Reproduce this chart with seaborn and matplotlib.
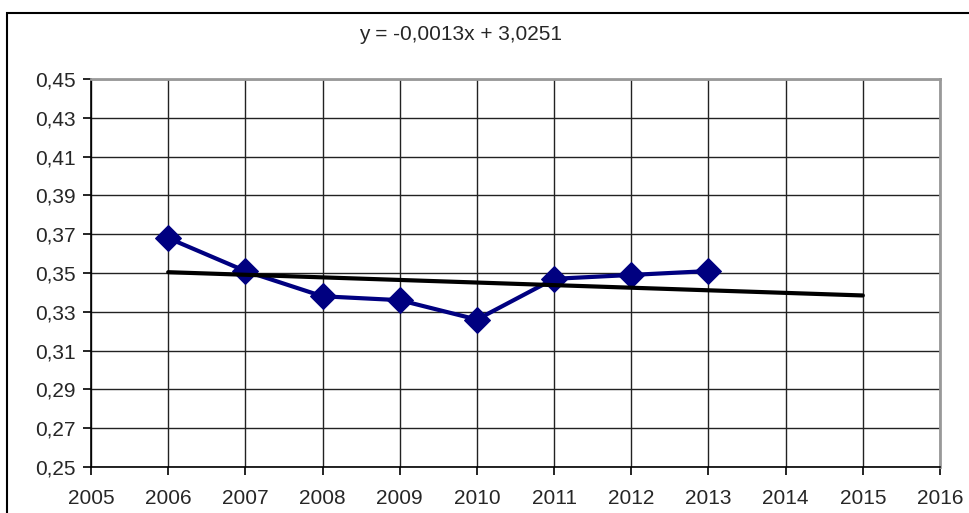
import numpy as np
import pandas as pd
import matplotlib
matplotlib.use("Agg")
import matplotlib.pyplot as plt
import seaborn as sns
from matplotlib.patches import Rectangle
from matplotlib.ticker import FuncFormatter

years = [2006, 2007, 2008, 2009, 2010, 2011, 2012, 2013]
values = [0.368, 0.351, 0.338, 0.336, 0.326, 0.347, 0.349, 0.351]
trend_years = [2006, 2015]
x_ticks = list(range(2005, 2017))
y_ticks = [0.25, 0.27, 0.29, 0.31, 0.33, 0.35, 0.37, 0.39, 0.41, 0.43, 0.45]
equation = "y = -0,0013x + 3,0251"

sns.set_style("white")
plt.rcParams['font.family'] = ['Liberation Sans', 'DejaVu Sans']

fig = plt.figure(figsize=(9.7, 5.13), dpi=100)
ax = fig.add_axes([91/970, 1-467/513, (940-91)/970, (467-79)/513])

df = pd.DataFrame({"year": years, "value": values})
slope, intercept = np.polyfit(years, values, 1)
tdf = pd.DataFrame({"year": trend_years,
                    "value": [slope*x + intercept for x in trend_years]})

ax.set_xlim(x_ticks[0], x_ticks[-1])
ax.set_ylim(y_ticks[0], y_ticks[-1])
ax.set_xticks(x_ticks)
ax.set_yticks(y_ticks)
ax.yaxis.set_major_formatter(FuncFormatter(lambda v, p: f"{v:.2f}".replace(".", ",")))
ax.xaxis.set_major_formatter(FuncFormatter(lambda v, p: f"{int(round(v))}"))
ax.grid(True, color="#222222", linewidth=1.0)
ax.set_axisbelow(True)

sns.lineplot(data=df, x="year", y="value", ax=ax, color="#000080",
             linewidth=3, marker="D", markersize=13, markeredgecolor="#000080",
             zorder=3)
sns.lineplot(data=tdf, x="year", y="value", ax=ax, color="black",
             linewidth=3, zorder=4)

ax.set_xlabel("")
ax.set_ylabel("")
for s in ["left", "bottom"]:
    ax.spines[s].set_color("black")
    ax.spines[s].set_linewidth(1.2)
for s in ["top", "right"]:
    ax.spines[s].set_color("#999999")
    ax.spines[s].set_linewidth(2)
ax.tick_params(axis="both", direction="out", length=6, width=1.2,
               color="black", labelsize=15, left=True, bottom=True)
ax.tick_params(axis="x", pad=10)
ax.tick_params(axis="y", pad=5)

fig.text(461/970, 1-34/513, equation, ha="center", va="center", fontsize=15)

fig.patches.append(Rectangle((7/970, -0.1), 1.1, 1-13/513+0.1,
                             transform=fig.transFigure, fill=False,
                             edgecolor="black", linewidth=1.5, clip_on=False))

fig.savefig("out.png", dpi=100)
